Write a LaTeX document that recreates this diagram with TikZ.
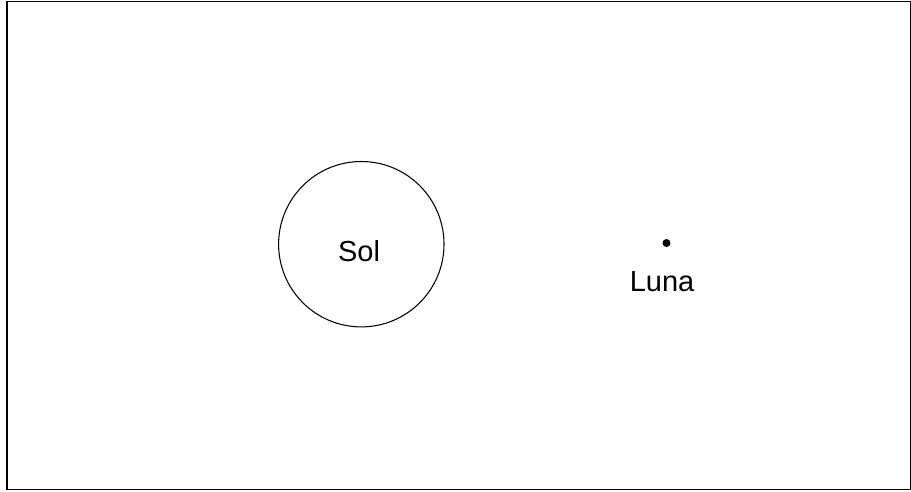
\documentclass[tikz,border=0pt]{standalone}
\usepackage{fontspec}
\setmainfont{Liberation Sans}
\begin{document}
\begin{tikzpicture}[x=0.02cm, y=-0.02cm]
         \useasboundingbox (0,0) rectangle (911,491);
         \begin{scope}[font=\fontsize{16.5}{20}\selectfont]
             \draw[line width=0.85pt] (7,1.5) rectangle (910.5,489.5);
             \draw[line width=0.6pt] (361.3,244.2) circle (82.7);
             \fill (666.5,243) circle (4);

             \node (sol) at (359,261) [anchor=base, inner sep=0pt]{Sol};
             \node (luna) at (662,291) [anchor=base, inner sep=0pt]{Luna};
             \end{scope}
         \end{tikzpicture}
\end{document}
